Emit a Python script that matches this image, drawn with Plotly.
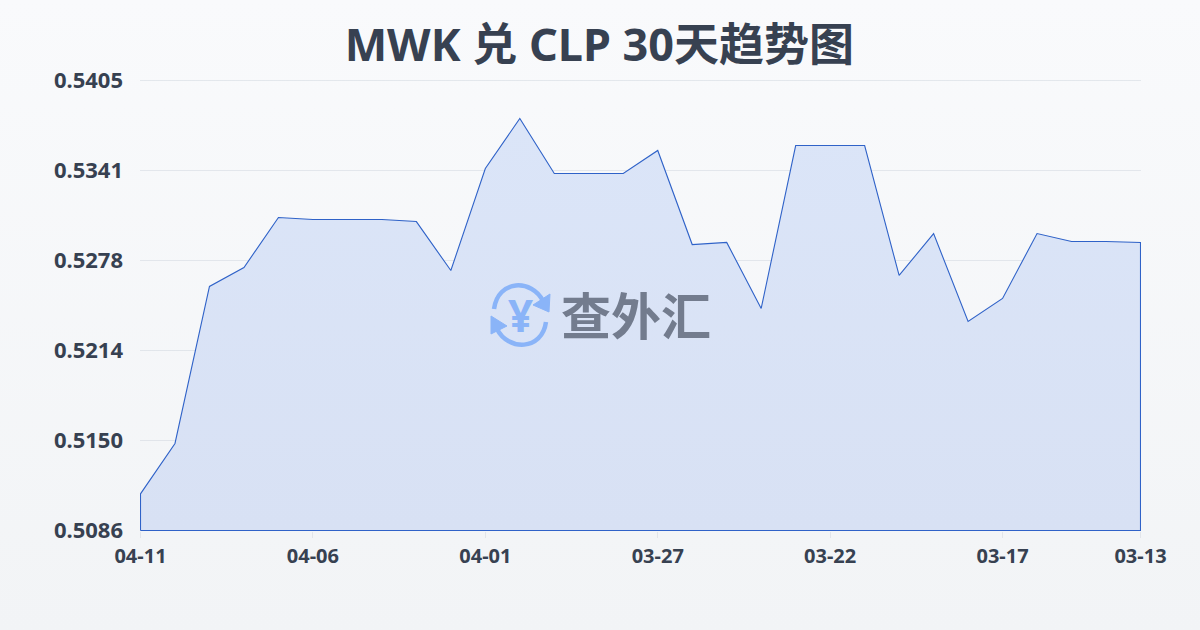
import base64
import plotly.graph_objects as go

dates = ["04-11","04-10","04-09","04-08","04-07","04-06","04-05","04-04","04-03","04-02",
         "04-01","03-31","03-30","03-29","03-28","03-27","03-26","03-25","03-24","03-23",
         "03-22","03-21","03-20","03-19","03-18","03-17","03-16","03-15","03-14","03-13"]
rates = [0.5112,0.51477,0.5259,0.52724,0.53079,0.53065,0.53065,0.53065,0.5305,0.52703,
         0.53426,0.53781,0.53391,0.53391,0.53391,0.53554,0.52887,0.52902,0.52434,0.53589,
         0.53589,0.53589,0.52668,0.52965,0.52342,0.52505,0.52965,0.52909,0.52909,0.52902]
base_value = 0.5086
y_ticks = [0.5086,0.51498,0.52136,0.52774,0.53412,0.5405]
y_labels = ["0.5086","0.5150","0.5214","0.5278","0.5341","0.5405"]
x_ticks = ["04-11","04-06","04-01","03-27","03-22","03-17","03-13"]
title = "MWK 兑 CLP 30天趋势图"

FONT = "'Noto Sans','Noto Sans CJK SC',sans-serif"
INK = "#374151"
GRID = "rgba(190,198,210,0.35)"
W, H = 1200, 630
# plot box is one pixel larger than the 1000x450 data span; half a pixel of padding
# on each side keeps the outline of the area on whole device pixels
L, R, T, B = 140, 1141, 80, 531
x_pad = 0.5 * (len(dates) - 1) / 1000
y_pad = 0.5 * (y_ticks[-1] - base_value) / 450

svg = f"""<svg xmlns='http://www.w3.org/2000/svg' width='{W}' height='{H}'>
<defs><linearGradient id='g' x1='0' y1='0' x2='0' y2='1'><stop offset='0' stop-color='#f9fafc'/><stop offset='1' stop-color='#f2f4f6'/></linearGradient></defs>
<rect width='{W}' height='{H}' fill='url(#g)'/></svg>"""
bg = "data:image/svg+xml;base64," + base64.b64encode(svg.encode()).decode()

fig = go.Figure()
fig.add_trace(go.Scatter(
    x=[dates[0]] + dates + [dates[-1], dates[0]],
    y=[base_value] + rates + [base_value, base_value],
    mode="lines", fill="toself",
    fillgradient=dict(type="vertical", colorscale=[[0, "#d8e1f4"], [1, "#dbe5f8"]]),
    line=dict(color="#2f62c8", width=1.1, shape="linear"),
    hoverinfo="skip", cliponaxis=False, showlegend=False))

def px(x): return (x - L) / (R - L)
def py(y): return (B - y) / (B - T)
def P(x, y): return f"{px(x):.5f} {py(y):.5f}"

BLUE = "#8ab4f8"
shapes = [
    # top gridline, which plotly drops at the edge of the plot box
    dict(type="line", xref="paper", yref="y", x0=0, x1=1, y0=y_ticks[-1], y1=y_ticks[-1],
         line=dict(color=GRID, width=1), layer="below"),
    # upper arc and arrowhead
    dict(type="path", xref="paper", yref="paper",
         path=f"M {P(494,309)} C {P(498,279)} {P(532,279)} {P(543,301)}",
         line=dict(color=BLUE, width=4.5)),
    dict(type="path", xref="paper", yref="paper",
         path=f"M {P(550,294)} L {P(549,312)} L {P(533,305)} Z",
         fillcolor=BLUE, line=dict(color=BLUE, width=1)),
    # lower arc and arrowhead
    dict(type="path", xref="paper", yref="paper",
         path=f"M {P(546,322)} C {P(542,351)} {P(508,351)} {P(497,329)}",
         line=dict(color=BLUE, width=4.5)),
    dict(type="path", xref="paper", yref="paper",
         path=f"M {P(491,316)} L {P(491,334)} L {P(507,326)} Z",
         fillcolor=BLUE, line=dict(color=BLUE, width=1)),
]

fig.update_layout(
    width=W, height=H, autosize=False,
    margin=dict(l=L, r=W - R, t=T, b=H - B),
    paper_bgcolor="#f6f7f9", plot_bgcolor="rgba(0,0,0,0)",
    font=dict(family=FONT, color=INK),
    showlegend=False, shapes=shapes,
    images=[dict(source=bg, xref="paper", yref="paper", x=-L/(R-L), y=1 + T/(B-T),
                 sizex=W/(R-L), sizey=H/(B-T), xanchor="left", yanchor="top",
                 sizing="stretch", layer="below")],
    title=dict(text=f"<b>{title}</b>", x=0.4995, xanchor="center", y=1-45/H, yanchor="middle",
               font=dict(family=FONT, size=45, color=INK)),
    xaxis=dict(type="category", categoryorder="array", categoryarray=dates,
               range=[-x_pad, len(dates) - 1 + x_pad], tickmode="array", tickvals=x_ticks,
               ticktext=[f"<b>{s}</b>" for s in x_ticks],
               showgrid=False, zeroline=False, showline=False,
               ticks="outside", ticklen=6, tickwidth=1, tickcolor="#e2e5ea",
               tickfont=dict(family=FONT, size=20, color=INK), ticklabelstandoff=1),
    yaxis=dict(range=[base_value - y_pad, y_ticks[-1] + y_pad], tickmode="array", tickvals=y_ticks,
               ticktext=[f"<b>{s}</b>" for s in y_labels],
               showgrid=True, gridcolor=GRID, gridwidth=1,
               zeroline=False, showline=False, ticks="",
               tickfont=dict(family=FONT, size=22, color=INK), ticklabelstandoff=16),
    annotations=[
        dict(text="<b>¥</b>", xref="paper", yref="paper", x=px(520), y=py(315), showarrow=False,
             font=dict(family=FONT, size=44, color=BLUE), xanchor="center", yanchor="middle"),
        dict(text="<b>查外汇</b>", xref="paper", yref="paper", x=px(636), y=py(313), showarrow=False,
             font=dict(family="'Noto Sans CJK SC'", size=50, color="#737c8e"), xanchor="center", yanchor="middle"),
    ],
)
fig.write_html("out.html", config={"displayModeBar": False},
               post_script="document.body.style.margin='0';document.body.style.overflow='hidden';")
